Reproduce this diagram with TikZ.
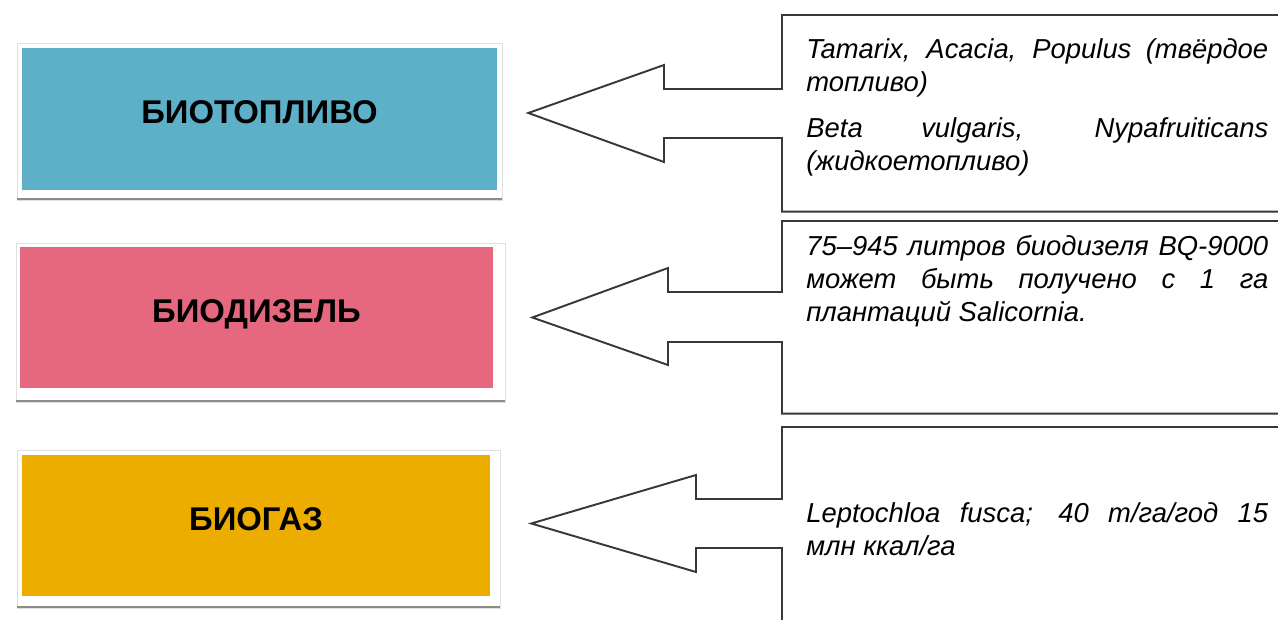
\documentclass[tikz,border=0pt]{standalone}
\usepackage{fontspec}
\setmainfont{Liberation Sans}
\usetikzlibrary{calc}
\definecolor{fuelblue}{RGB}{93,176,200}
\definecolor{fuelpink}{RGB}{229,104,126}
\definecolor{fuelgold}{RGB}{236,172,0}
\hyphenpenalty=10000
\exhyphenpenalty=10000
\tikzset{
  fuel/.style={rectangle, inner sep=0pt, minimum height=2.83cm, text height=13.4pt, text depth=8pt,
    font=\fontsize{18.7}{22}\selectfont\bfseries},
  framed/.style={draw=black!12, fill=white},
  shade/.style={draw=black!45, line width=1.6pt},
  notebox/.style={rectangle, inner sep=0pt, minimum width=10.6cm, anchor=north west},
  note/.style={anchor=north west, inner sep=0pt, text width=9.24cm, align=justify,
    font=\fontsize{15.6}{18.7}\selectfont\itshape},
  outline/.style={draw=black!78, line width=1.1pt, line join=miter}
}
\begin{document}
\begin{tikzpicture}[x=0.02cm, y=-0.02cm]
        \useasboundingbox (0,0) rectangle (1278,619);
        % left boxes
        \draw[framed] (17,43) rectangle (502,200);
        \draw[shade] (17,199) -- (502,199);
        \draw[framed] (16,243) rectangle (505,402);
        \draw[shade] (16,401) -- (505,401);
        \draw[framed] (17,450) rectangle (500,608);
        \draw[shade] (17,607) -- (500,607);
        \node[fuel, fill=fuelblue, minimum width=9.5cm] (b1) at (259.5,119) {БИОТОПЛИВО};
        \node[fuel, fill=fuelpink, minimum width=9.46cm] (b2) at (256.5,317.5) {БИОДИЗЕЛЬ};
        \node[fuel, fill=fuelgold, minimum width=9.36cm] (b3) at (256,525.5) {БИОГАЗ};
        % right boxes
        \node[notebox, minimum height=3.92cm] (f1) at (782,15) {};
        \node[notebox, minimum height=3.84cm] (f2) at (782,221) {};
        \node[notebox, minimum height=4.1cm] (f3) at (782,427) {};
        \node[note] (n1) at ($(f1.north west)+(24,23)$)
            {Tamarix, Acacia, Populus (твёрдое\linebreak топливо)\par\vspace{8pt}Beta vulgaris, Nypafruiticans\linebreak (жидкоетопливо)};
        \node[note] (n2) at ($(f2.north west)+(24,14)$)
            {75–945 литров биодизеля BQ-9000\linebreak может быть получено с 1 га\linebreak плантаций Salicornia.};
        \node[note] (n3) at ($(f3.north west)+(24,75)$)
            {Leptochloa fusca; 40 т/га/год 15\linebreak млн ккал/га};
        % arrows
        \coordinate (t1) at ($(b1.east)+(31,-6)$);
        \coordinate (t2) at ($(b2.east)+(39,0)$);
        \coordinate (t3) at ($(b3.east)+(41,-2)$);
        \draw[outline] (f1.north east) -- (f1.north west) -- ++(0,74) -| (664,65) -- (t1) -- (664,162)
            |- ($(f1.north west)+(0,123)$) -- (f1.south west) -- (f1.south east);
        \draw[outline] (f2.north east) -- (f2.north west) -- ++(0,71) -| (668,268) -- (t2) -- (668,365)
            |- ($(f2.north west)+(0,121)$) -- (f2.south west) -- (f2.south east);
        \draw[outline] (f3.north east) -- (f3.north west) -- ++(0,72) -| (696,475) -- (t3) -- (696,572)
            |- ($(f3.north west)+(0,121)$) -- (f3.south west) -- (f3.south east);
\end{tikzpicture}
\end{document}
